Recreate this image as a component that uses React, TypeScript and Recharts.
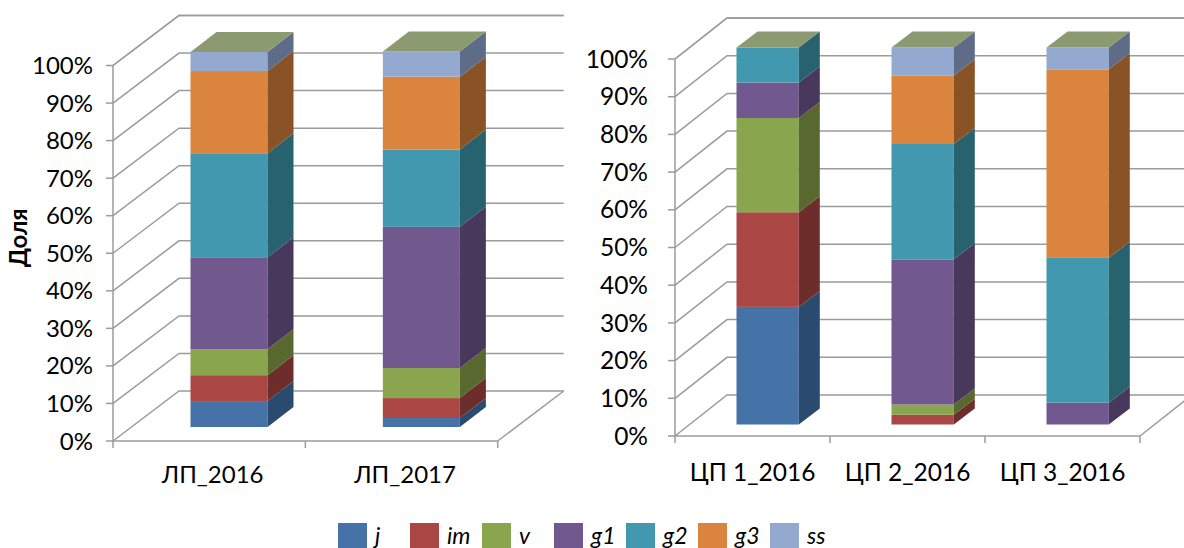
import { BarChart, Bar, XAxis, YAxis, CartesianGrid } from 'recharts'

const leftCategories = ['ЛП_2016', 'ЛП_2017']
const rightCategories = ['ЦП 1_2016', 'ЦП 2_2016', 'ЦП 3_2016']
const seriesNames = ['j', 'im', 'v', 'g1', 'g2', 'g3', 'ss']
const yTicks = [0, 10, 20, 30, 40, 50, 60, 70, 80, 90, 100]

// share of each formation, %, one value per category
const leftValues = [
  [6.9, 2.4],
  [6.9, 5.3],
  [6.9, 8.0],
  [24.5, 37.6],
  [27.7, 20.6],
  [21.9, 19.4],
  [5.1, 6.7],
]
const rightValues = [
  [31.2, 0, 0],
  [25.1, 2.6, 0],
  [25.0, 2.7, 0],
  [9.4, 38.5, 5.8],
  [9.3, 30.6, 38.4],
  [0, 18.2, 50.0],
  [0, 7.4, 5.8],
]

const frontColors = ['#4572A7', '#AA4643', '#89A54E', '#71588F', '#4198AF', '#DB843D', '#93A9CF']
const sideColors = ['#2B4A70', '#6C2D2B', '#58682F', '#48385C', '#28626F', '#8A5326', '#5E6C87']
const topColor = '#8C9A72'
const gridColor = '#9B9B9B'
const font = 'Lato, "Open Sans", sans-serif'

const buildRows = (categories: string[], values: number[][]) =>
  categories.map((name, i) => {
    const row: Record<string, string | number> = { name }
    seriesNames.forEach((key, s) => { row[key] = values[s][i] })
    return row
  })

function BarBox(props: any) {
  const { x, y, width, height, payload, index2, depthX, depthY } = props
  if (!height || height <= 0) return null
  const fx = x + props.shiftX
  const fy = y - props.shiftY
  const isTop = seriesNames.slice(index2 + 1).every((k) => !payload[k])
  return (
    <g>
      <rect x={fx} y={fy} width={width} height={height} fill={frontColors[index2]} />
      <polygon
        points={`${fx + width},${fy} ${fx + width + depthX},${fy - depthY} ${fx + width + depthX},${fy + height - depthY} ${fx + width},${fy + height}`}
        fill={sideColors[index2]}
      />
      {isTop && (
        <polygon
          points={`${fx},${fy} ${fx + depthX},${fy - depthY} ${fx + width + depthX},${fy - depthY} ${fx + width},${fy}`}
          fill={topColor}
        />
      )}
    </g>
  )
}

function Panel({ left, width, categories, values, plot, wallX, wallY, depthX, depthY, shiftX, shiftY, barSize, labelDx, labelDy, fontSize, tickMargin, title }: any) {
  const band = (plot.right - plot.left) / categories.length

  const gridLine = (p: any) => {
    const floor = p.y1 >= plot.bottom - 1
    return (
      <g key={p.index ?? p.y1}>
        <polyline
          points={`${p.x1},${p.y1} ${p.x1 + wallX},${p.y1 - wallY} ${p.x2 + wallX},${p.y1 - wallY}`}
          fill="none"
          stroke={gridColor}
          strokeWidth={1.5}
        />
        {floor && (
          <line x1={p.x2} y1={p.y1} x2={p.x2 + wallX} y2={p.y1 - wallY} stroke={gridColor} strokeWidth={1.5} />
        )}
      </g>
    )
  }

  const xTick = (p: any) => {
    const last = p.index === categories.length - 1
    return (
      <g>
        <line x1={p.x - band / 2} x2={p.x - band / 2} y1={plot.bottom} y2={plot.bottom + 7} stroke={gridColor} strokeWidth={1.5} />
        {last && <line x1={p.x + band / 2} x2={p.x + band / 2} y1={plot.bottom} y2={plot.bottom + 7} stroke={gridColor} strokeWidth={1.5} />}
        <text x={p.x + labelDx} y={plot.bottom + labelDy} textAnchor="middle" fontFamily={font} fontSize={fontSize} fill="#000">
          {p.payload.value}
        </text>
      </g>
    )
  }

  return (
    <div style={{ position: 'absolute', left, top: 0 }}>
      <BarChart
        width={width}
        height={548}
        data={buildRows(categories, values)}
        barSize={barSize}
        margin={{ top: plot.top, right: width - plot.right, left: 0, bottom: 0 }}
      >
        <CartesianGrid vertical={false} horizontal={gridLine} />
        <XAxis
          dataKey="name"
          height={548 - plot.bottom}
          interval={0}
          tick={xTick}
          tickLine={false}
          axisLine={{ stroke: gridColor, strokeWidth: 1.5 }}
        />
        <YAxis
          width={plot.left}
          domain={[0, 100]}
          ticks={yTicks}
          interval={0}
          tickFormatter={(v: number) => `${v}%`}
          tick={{ fill: '#000', fontSize, fontFamily: font }}
          tickSize={7}
          tickMargin={tickMargin}
          tickLine={{ stroke: gridColor, strokeWidth: 1.5 }}
          axisLine={{ stroke: gridColor, strokeWidth: 1.5 }}
          label={
            title
              ? { value: title, angle: -90, position: 'insideLeft', offset: 18, dy: 14, style: { fontFamily: font, fontSize: 24, fontWeight: 700, fill: '#000' } }
              : undefined
          }
        />
        {seriesNames.map((key, s) => (
          <Bar
            key={key}
            dataKey={key}
            stackId="a"
            isAnimationActive={false}
            shape={(p: any) => <BarBox {...p} index2={s} depthX={depthX} depthY={depthY} shiftX={shiftX} shiftY={shiftY} />}
          />
        ))}
      </BarChart>
    </div>
  )
}

function LegendRow() {
  return (
    <div style={{ position: 'absolute', left: 338, top: 523, display: 'flex', fontFamily: font, fontStyle: 'italic', fontSize: 23, color: '#000' }}>
      {seriesNames.map((name, s) => (
        <div key={name} style={{ width: 72, height: 25, display: 'flex', alignItems: 'center' }}>
          <span style={{ width: 29, height: 25, background: frontColors[s], marginRight: 8, flex: 'none' }} />
          <span style={{ lineHeight: '25px' }}>{name}</span>
        </div>
      ))}
    </div>
  )
}

export default function App() {
  return (
    <div style={{ position: 'absolute', left: 0, top: 0, width: 1184, height: 548, overflow: 'hidden', background: '#fff' }}>
      <Panel
        left={0}
        width={600}
        categories={leftCategories}
        values={leftValues}
        plot={{ left: 113, right: 497.7, top: 65.5, bottom: 441 }}
        wallX={66}
        wallY={50}
        depthX={26}
        depthY={20}
        shiftX={19.5}
        shiftY={14}
        barSize={77}
        labelDx={3.5}
        labelDy={42}
        fontSize={24}
        tickMargin={13}
        title="Доля"
      />
      <Panel
        left={540}
        width={644}
        categories={rightCategories}
        values={rightValues}
        plot={{ left: 135, right: 600, top: 59, bottom: 436 }}
        wallX={52}
        wallY={41}
        depthX={21}
        depthY={16}
        shiftX={15.5}
        shiftY={11.5}
        barSize={62.3}
        labelDx={0}
        labelDy={45}
        fontSize={24.5}
        tickMargin={20}
      />
      <LegendRow />
    </div>
  )
}
